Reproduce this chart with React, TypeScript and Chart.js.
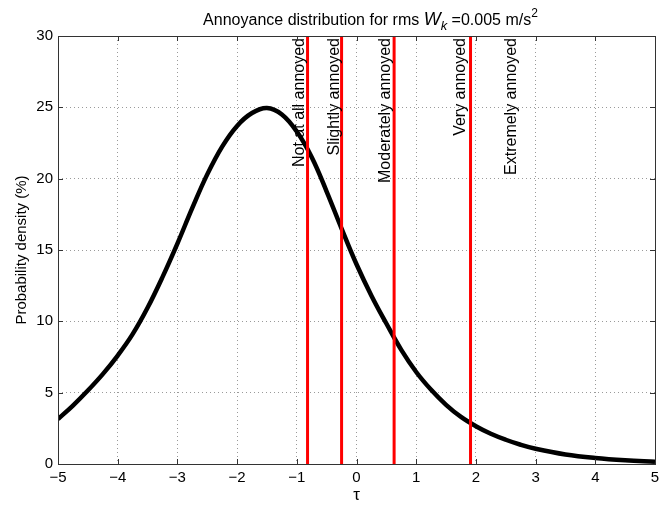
import React, { useEffect, useRef } from 'react';
import { Chart, registerables } from 'chart.js';

Chart.register(...registerables);

// ---- data ----
const tau = [-5, -4.75, -4.5, -4.25, -4, -3.75, -3.5, -3.25, -3, -2.75, -2.5, -2.25, -2, -1.75, -1.5, -1.25, -1, -0.75, -0.5, -0.25, 0, 0.25, 0.5, 0.75, 1, 1.25, 1.5, 1.75, 2, 2.25, 2.5, 2.75, 3, 3.5, 4, 4.5, 5];
const density = [3.15, 4.1, 5.15, 6.3, 7.6, 9.1, 10.95, 13.1, 15.45, 17.95, 20.3, 22.25, 23.7, 24.6, 24.95, 24.5, 23.3, 21.5, 19.1, 16.5, 14.0, 11.8, 9.85, 8.0, 6.45, 5.2, 4.15, 3.3, 2.65, 2.12, 1.7, 1.35, 1.07, 0.67, 0.42, 0.26, 0.16];
const thresholds = [-0.82, -0.25, 0.63, 1.91];
const categoryLabels = ['Not at all annoyed', 'Slightly annoyed', 'Moderately annoyed', 'Very annoyed', 'Extremely annoyed'];
const categoryLabelPositions = [-0.96, -0.37, 0.48, 1.75, 2.59];
const xTicks = [-5, -4, -3, -2, -1, 0, 1, 2, 3, 4, 5];
const yTicks = [0, 5, 10, 15, 20, 25, 30];
const yMax = 30;

const FONT = '"Liberation Sans", Arial, Helvetica, sans-serif';

const overlayPlugin = {
  id: 'overlay',
  afterDatasetsDraw(chart: any) {
    const { ctx, chartArea, scales } = chart;
    const xs = scales.x;
    ctx.save();
    ctx.fillStyle = '#000';
    ctx.font = `16px ${FONT}`;
    ctx.textAlign = 'right';
    ctx.textBaseline = 'middle';
    categoryLabels.forEach((lab, i) => {
      const px = xs.getPixelForValue(categoryLabelPositions[i]);
      ctx.save();
      ctx.translate(px, chartArea.top + 2);
      ctx.rotate(-Math.PI / 2);
      ctx.fillText(lab, 0, 0);
      ctx.restore();
    });
    ctx.restore();
  },
  afterDraw(chart: any) {
    const { ctx, chartArea, scales } = chart;
    const { left, right, top, bottom } = chartArea;
    ctx.save();
    // axis box
    ctx.strokeStyle = '#333';
    ctx.lineWidth = 1;
    ctx.strokeRect(Math.round(left) + 0.5, Math.round(top) + 0.5, Math.round(right - left), Math.round(bottom - top));
    // inward ticks
    const tl = 5;
    ctx.beginPath();
    xTicks.forEach((v) => {
      const p = Math.round(scales.x.getPixelForValue(v)) + 0.5;
      ctx.moveTo(p, bottom); ctx.lineTo(p, bottom - tl);
      ctx.moveTo(p, top); ctx.lineTo(p, top + tl);
    });
    yTicks.forEach((v) => {
      const p = Math.round(scales.y.getPixelForValue(v)) + 0.5;
      ctx.moveTo(left, p); ctx.lineTo(left + tl, p);
      ctx.moveTo(right, p); ctx.lineTo(right - tl, p);
    });
    ctx.stroke();

    // title with italic W, subscript k, superscript 2
    const parts = [
      { t: 'Annoyance distribution for rms ', f: `16px ${FONT}`, dy: 0 },
      { t: 'W', f: `italic 18px ${FONT}`, dy: 0 },
      { t: 'k', f: `italic 13px ${FONT}`, dy: 5 },
      { t: ' =0.005 m/s', f: `16px ${FONT}`, dy: 0 },
      { t: '2', f: `12px ${FONT}`, dy: -8 },
    ];
    let total = 0;
    parts.forEach((p) => { ctx.font = p.f; total += ctx.measureText(p.t).width; });
    let x = (left + right) / 2 - total / 2 + 14;
    const baseY = 25;
    ctx.fillStyle = '#000';
    ctx.textAlign = 'left';
    ctx.textBaseline = 'alphabetic';
    parts.forEach((p) => {
      ctx.font = p.f;
      ctx.fillText(p.t, x, baseY + p.dy);
      x += ctx.measureText(p.t).width;
    });
    ctx.restore();
  },
};

export default function App() {
  const ref = useRef<HTMLCanvasElement>(null);
  useEffect(() => {
    if (!ref.current) return;
    const datasets: any[] = [
      {
        label: 'density',
        data: tau.map((t, i) => ({ x: t, y: density[i] })),
        borderColor: '#000',
        borderWidth: 4.5,
        pointRadius: 0,
        tension: 0.4,
        fill: false,
        order: 1,
      },
      ...thresholds.map((t) => ({
        label: 'threshold ' + t,
        data: [{ x: t, y: 0 }, { x: t, y: yMax }],
        borderColor: '#ff0000',
        borderWidth: 3,
        pointRadius: 0,
        fill: false,
        order: 0,
      })),
    ];
    const chart = new Chart(ref.current, {
      type: 'line',
      data: { datasets },
      plugins: [overlayPlugin],
      options: {
        animation: false,
        responsive: false,
        layout: { padding: { left: 0, right: 10, top: 36, bottom: 0 } },
        plugins: { legend: { display: false }, tooltip: { enabled: false }, title: { display: false } },
        scales: {
          x: {
            type: 'linear',
            min: -5,
            max: 5,
            afterBuildTicks: (s: any) => { s.ticks = xTicks.map((v) => ({ value: v })); },
            afterFit: (s: any) => { s.height = 42; },
            ticks: {
              color: '#000',
              font: { family: FONT, size: 15 },
              padding: 5,
              maxRotation: 0,
              callback: (v: any) => String(v).replace('-', '\u2212'),
            },
            grid: { color: '#9a9a9a', drawTicks: false, lineWidth: 1 },
            border: { display: false, dash: [1, 3] },
            title: { display: true, text: 'τ', color: '#000', font: { family: FONT, size: 17 }, padding: { top: 0, bottom: 0 } },
          },
          y: {
            type: 'linear',
            min: 0,
            max: yMax,
            afterBuildTicks: (s: any) => { s.ticks = yTicks.map((v) => ({ value: v })); },
            afterFit: (s: any) => { s.width = 58; },
            ticks: { color: '#000', font: { family: FONT, size: 15 }, padding: 5 },
            grid: { color: '#9a9a9a', drawTicks: false, lineWidth: 1 },
            border: { display: false, dash: [1, 3] },
            title: { display: true, text: 'Probability density (%)', color: '#000', font: { family: FONT, size: 15 }, padding: { top: 13, bottom: 0 } },
          },
        },
      } as any,
    });
    return () => chart.destroy();
  }, []);
  return (
    <div style={{ position: 'fixed', left: 0, top: 0, width: 665, height: 506, background: '#fff' }}>
      <canvas ref={ref} width={665} height={506} />
    </div>
  );
}
